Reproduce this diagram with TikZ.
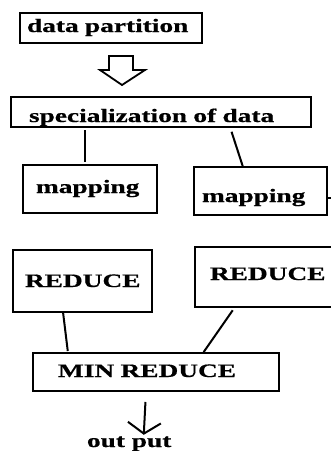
\documentclass[tikz,border=0pt]{standalone}
\usepackage{fontspec}
\newfontfamily\diagfont[FakeStretch=1.44, BoldFeatures={FakeBold=0.6}]{Liberation Serif}
\usetikzlibrary{arrows.meta}
\hyphenpenalty=10000

\begin{document}
\begin{tikzpicture}[x=1pt, y=-1pt,
  every node/.style = {font=\diagfont\bfseries\fontsize{19}{20}\selectfont,
    inner sep=0pt, outer sep=0pt},
  stepbox/.style n args = {4}{draw, line width=1.8pt, anchor=north west,
    align=left, inner xsep=#2, text width=#1, text height=#3, text depth=#4},
  link/.style = {line width=2pt},
  hollow/.style = {line width=1.8pt, line join=miter}]
  \useasboundingbox (0,0) rectangle (331,451);

  % boxes
  \node[stepbox={168pt}{7pt}{19pt}{11pt}] (part) at (20,13) {data partition};
  \node[stepbox={264pt}{18pt}{25pt}{5pt}] (spec) at (11,97) {specialization of data};
  \node[stepbox={108pt}{13pt}{28pt}{20pt}] (map1) at (23,165) {mapping};
  \node[stepbox={117pt}{8pt}{35pt}{13pt}] (map2) at (194,167) {mapping};
  \node[stepbox={115pt}{12pt}{37pt}{25pt}] (red1) at (13,250) {REDUCE};
  \node[stepbox={110pt}{15pt}{33pt}{27pt}] (red2) at (195,247) {REDUCE};
  \node[stepbox={196pt}{25pt}{24pt}{14pt}] (min) at (33,353) {MIN REDUCE};
  \node[anchor=base west] (out) at (87,447) {out put};

  % hollow arrow
  \draw[hollow] (109,56) -- (133,56) -- (133,70) -- (145,70) -- (122,85)
    -- (100,70) -- (109,70) -- cycle;

  % connectors
  \draw[link, shorten <=3pt, shorten >=3pt] ([xshift=74pt]spec.south west) -- ([xshift=62pt]map1.north west);
  \draw[link, shorten <=5pt] ([xshift=219pt]spec.south west) -- ([xshift=49pt]map2.north west);
  \draw[link] ([yshift=-7pt]map2.east) -- ++(10,0);
  \draw[link, shorten <=1pt, shorten >=2pt] ([xshift=50pt]red1.south west) -- ([xshift=35pt]min.north west);
  \draw[link, shorten <=4pt, shorten >=1pt] ([xshift=40pt]red2.south west) -- ([xshift=170pt]min.north west);
  \draw[link, -{Straight Barb[length=11pt, width=33pt]}, shorten <=11pt, shorten >=1.5pt]
    ([xshift=113pt]min.south west) -- ([xshift=14.5pt]out.north);
\end{tikzpicture}
\end{document}
